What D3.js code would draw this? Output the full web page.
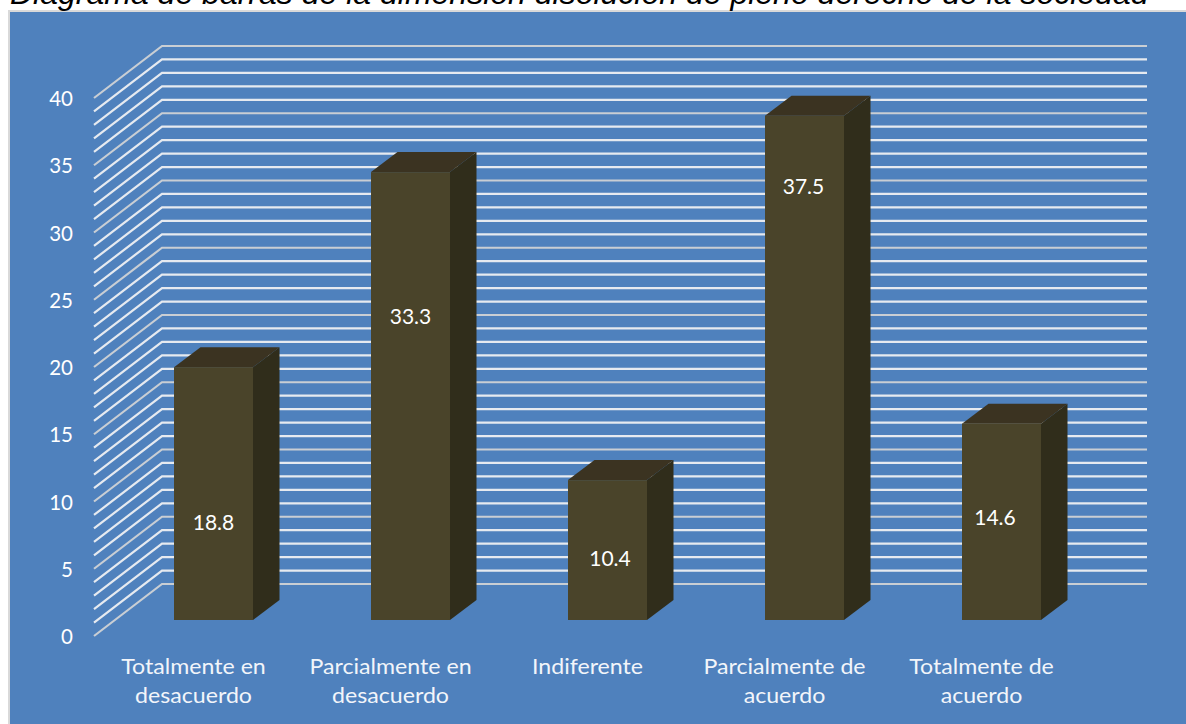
<!DOCTYPE html>
<html>
<head>
<meta charset="utf-8">
<script src="https://cdn.jsdelivr.net/npm/d3@7"></script>
<style>
  html, body { margin: 0; padding: 0; background: #fff; overflow: hidden; }
  svg { display: block; }
</style>
</head>
<body>
<svg id="chart" width="1186" height="724"></svg>
<script>
const titleText = "Diagrama de barras de la dimensión disolución de pleno derecho de la sociedad";
const categories = ["Totalmente en desacuerdo", "Parcialmente en desacuerdo", "Indiferente", "Parcialmente de acuerdo", "Totalmente de acuerdo"];
const categoryLines = [["Totalmente en", "desacuerdo"], ["Parcialmente en", "desacuerdo"], ["Indiferente"], ["Parcialmente de", "acuerdo"], ["Totalmente de", "acuerdo"]];
const values = [18.8, 33.3, 10.4, 37.5, 14.6];
// the value labels were dragged by hand in the original, this is the height each one sits at
const labelHeights = [7.2, 22.5, 4.5, 32.2, 7.6];
const yTicks = [0, 5, 10, 15, 20, 25, 30, 35, 40];
const gridValues = d3.range(0, 41);

const svg = d3.select("#chart");
const labelFont = "Lato, sans-serif";

// shear of the 3d box
const barDx = 26.5, barDy = -20;
const wallDx = 68, wallDy = -52;
const wallRight = 1147;
const floorLeft = 94;

const y = d3.scaleLinear().domain([0, 40]).range([620, 82]);
const x = d3.scaleBand().domain(categories).range([174, 1041]).paddingInner(0.599).paddingOuter(0);
const bw = x.bandwidth();
const labelNudge = [0, 0, 2.5, -1, -6.5];

svg.append("rect").attr("x", 9).attr("y", 11).attr("width", 1190).attr("height", 730)
  .attr("fill", "#4f81bd").attr("stroke", "#d9d9d9").attr("stroke-width", 2);

svg.append("text").attr("x", 10).attr("y", 4)
  .attr("font-family", "'Liberation Sans', Arial, sans-serif")
  .attr("font-style", "italic").attr("font-size", 32).attr("fill", "#000")
  .text(titleText);

// gridlines: side wall + back wall
const wall = svg.append("g").attr("fill", "none").attr("stroke-width", 2.2);
gridValues.forEach(v => {
  const yFront = y(v) + 16;
  const stroke = v % 5 === 0 ? "#c9ced4" : "#e6eaf0";
  wall.append("path")
    .attr("stroke", stroke)
    .attr("d", d3.line()([[floorLeft, yFront], [floorLeft + wallDx, yFront + wallDy], [wallRight, yFront + wallDy]]));
});

// y axis labels
const yAxis = d3.axisLeft(d3.scaleLinear().domain(y.domain()).range([y(0) + 17, y(40) + 17]))
  .tickValues(yTicks).tickSize(0).tickPadding(0);
const yAxisG = svg.append("g").attr("transform", "translate(73,0)").call(yAxis);
yAxisG.select(".domain").remove();
yAxisG.selectAll("text").attr("font-family", labelFont).attr("font-size", 20.5).attr("fill", "#fff");

// bars
const bars = svg.append("g").selectAll("g").data(values).join("g");
const bx = (d, i) => x(categories[i]);

bars.append("path").attr("fill", "#3b3321")
  .attr("d", (d, i) => d3.line()([[bx(d, i), y(d)], [bx(d, i) + barDx, y(d) + barDy], [bx(d, i) + bw + barDx, y(d) + barDy], [bx(d, i) + bw, y(d)]]));
bars.append("path").attr("fill", "#302d1b")
  .attr("d", (d, i) => d3.line()([[bx(d, i) + bw, y(d)], [bx(d, i) + bw + barDx, y(d) + barDy], [bx(d, i) + bw + barDx, y(0) + barDy], [bx(d, i) + bw, y(0)]]));
bars.append("rect").attr("fill", "#4a442a")
  .attr("x", bx).attr("y", d => y(d)).attr("width", bw).attr("height", d => y(0) - y(d));

bars.append("text")
  .attr("x", (d, i) => bx(d, i) + bw / 2 + labelNudge[i])
  .attr("y", (d, i) => y(labelHeights[i]) + 7)
  .attr("text-anchor", "middle")
  .attr("font-family", labelFont).attr("font-size", 21).attr("fill", "#fff")
  .text(d => d.toFixed(1));

// category labels, stretched a bit wider like the original
const catLabels = svg.append("g").selectAll("g").data(categories).join("g")
  .attr("transform", d => "translate(" + (x(d) + bw / 2 - 20) + ",0) scale(1.13,1)");
catLabels.selectAll("text").data((d, i) => categoryLines[i]).join("text")
  .attr("text-anchor", "middle")
  .attr("y", (d, i) => 674 + i * 29)
  .attr("font-family", labelFont).attr("font-size", 20.5).attr("fill", "#f2f5fa")
  .text(d => d);
</script>
</body>
</html>
